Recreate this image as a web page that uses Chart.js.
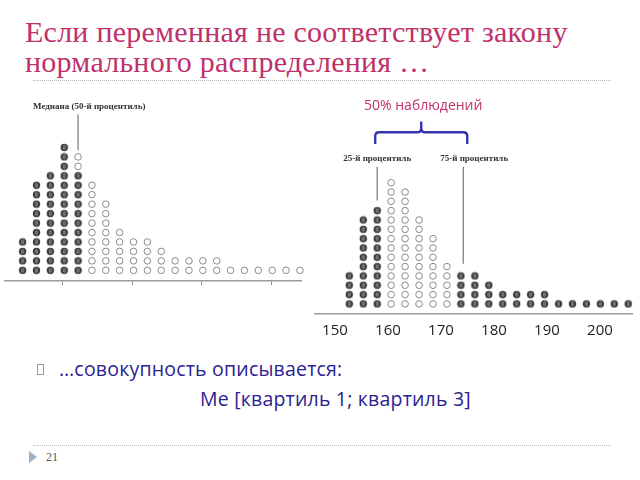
<!DOCTYPE html>
<html>
<head>
<meta charset="utf-8">
<script src="https://cdn.jsdelivr.net/npm/chart.js@4.4.0/dist/chart.umd.min.js"></script>
<style>
    html, body { margin: 0; padding: 0; background: #fff; width: 640px; height: 480px; overflow: hidden; }
    body { position: relative; }
    .t { position: absolute; white-space: nowrap; }
    #title { left: 25px; top: 17px; font-family: "Liberation Serif", serif; font-size: 30px; letter-spacing: 0.25px; line-height: 30px; color: #c0306a; }
    .rule { position: absolute; left: 33px; width: 578px; height: 0; border-top: 1px dotted #b8b8b8; }
    #leftChart { position: absolute; left: 0; top: 90px; }
    #rightChart { position: absolute; left: 310px; top: 90px; }
    .body { font-family: "Open Sans", sans-serif; color: #2b2290; font-size: 19.5px; letter-spacing: 0.2px; }
    #bulletBox { position: absolute; left: 37px; top: 364px; width: 5px; height: 9px; border: 1px solid #999; }
    #tri { position: absolute; left: 29px; top: 451px; width: 0; height: 0; border-top: 6px solid transparent; border-bottom: 6px solid transparent; border-left: 8px solid #9fb3c8; }
    #page { left: 46px; top: 450px; font-family: "Liberation Serif", serif; font-size: 12px; color: #555; }
</style>
</head>
<body>
<div id="title" class="t">Если переменная не соответствует закону<br>нормального распределения …</div>
<div class="rule" style="top:80px"></div>

<canvas id="leftChart" width="310" height="196"></canvas>
<canvas id="rightChart" width="330" height="258"></canvas>

<div id="bulletBox"></div>
<div class="t body" style="left:59px; top:355px;">…совокупность описывается:</div>
<div class="t body" style="left:200px; top:385px;">Me [квартиль 1; квартиль 3]</div>

<div class="rule" style="top:445px"></div>
<div id="tri"></div>
<div id="page" class="t">21</div>

<script>
// Dot counts per column (same sample in both panels), bottom to top
const columnCounts = [4, 10, 11, 14, 13, 10, 8, 5, 4, 4, 3, 2, 2, 2, 2, 1, 1, 1, 1, 1, 1];
// Dark dots per column: below the median (left panel)
const darkBelowMedian = [4, 10, 11, 14, 11, 0, 0, 0, 0, 0, 0, 0, 0, 0, 0, 0, 0, 0, 0, 0, 0];
// Dark dots per column: outside the interquartile range (right panel)
const darkOutsideIQR = [4, 10, 11, 0, 0, 0, 0, 0, 4, 4, 3, 2, 2, 2, 2, 1, 1, 1, 1, 1, 1];
// Height axis of the right panel
const tickValues = [150, 160, 170, 180, 190, 200];
const tickLabels = ['150', '160', '170', '180', '190', '200'];
// Unlabelled tick marks of the left panel
const leftTickValues = [160, 170, 180, 190];

const medianColumn = 4;
const q1Column = 2;
const q3Column = 8.17;

// Split counts into dark / light points
function buildPoints(counts, darkCounts) {
    const dark = [], light = [];
    counts.forEach((n, col) => {
        for (let r = 0; r < n; r++) {
            (r < darkCounts[col] ? dark : light).push({ x: col, y: r });
        }
    });
    return { dark, light };
}

// Filled dot with the little light mark in the middle
function darkDot() {
    const c = document.createElement('canvas');
    c.width = 9; c.height = 9;
    const g = c.getContext('2d');
    g.beginPath();
    g.arc(4.5, 4.5, 3.7, 0, Math.PI * 2);
    g.fillStyle = '#3c3c3c';
    g.fill();
    g.strokeStyle = '#9a9a9a';
    g.lineWidth = 1;
    g.beginPath();
    g.ellipse(4.5, 4.5, 0.8, 2.2, 0, 0, Math.PI * 2);
    g.stroke();
    return c;
}
const darkStyle = darkDot();

function datasets(pts) {
    return [{
        data: pts.dark,
        pointStyle: darkStyle,
        clip: false
    }, {
        data: pts.light,
        pointRadius: 3.3,
        backgroundColor: '#fff',
        borderColor: '#8a8a8a',
        borderWidth: 1,
        clip: false
    }];
}

const baseOptions = {
    responsive: false,
    animation: false,
    events: [],
    plugins: { legend: { display: false }, tooltip: { enabled: false } }
};

function line(ctx, x1, y1, x2, y2) {
    ctx.beginPath();
    ctx.moveTo(x1, y1);
    ctx.lineTo(x2, y2);
    ctx.stroke();
}

// Left panel: median
const medianNotes = {
    id: 'medianNotes',
    afterDatasetsDraw(chart) {
        const { ctx, scales: { x, y } } = chart;
        const mx = x.getPixelForValue(medianColumn);
        ctx.save();
        ctx.strokeStyle = '#777';
        ctx.lineWidth = 1.2;
        line(ctx, mx, y.getPixelForValue(16.5), mx, y.getPixelForValue(12.7));
        ctx.fillStyle = '#333';
        ctx.font = 'bold 9px "Liberation Serif"';
        ctx.textBaseline = 'middle';
        ctx.fillText('Медиана (50-й процентиль)', mx - 45, y.getPixelForValue(17.3));
        ctx.restore();
    }
};

// Right panel: quartiles and bracket
const quartileNotes = {
    id: 'quartileNotes',
    afterDatasetsDraw(chart) {
        const { ctx, scales: { x, y } } = chart;
        const x1 = x.getPixelForValue(q1Column);
        const x3 = x.getPixelForValue(q3Column);
        ctx.save();
        ctx.strokeStyle = '#777';
        ctx.lineWidth = 1.2;
        line(ctx, x1, y.getPixelForValue(14.7), x1, y.getPixelForValue(11.1));
        line(ctx, x3, y.getPixelForValue(14.7), x3, y.getPixelForValue(4.3));
        ctx.fillStyle = '#333';
        ctx.font = 'bold 9px "Liberation Serif"';
        ctx.textBaseline = 'middle';
        ctx.textAlign = 'center';
        ctx.fillText('25-й процентиль', x1, y.getPixelForValue(15.6));
        ctx.textAlign = 'left';
        ctx.fillText('75-й процентиль', x3 - 23, y.getPixelForValue(15.6));

        // curly bracket
        const bl = x1 - 2, br = x3 + 4, bm = (bl + br) / 2;
        const yTop = y.getPixelForValue(18.41), yEnd = y.getPixelForValue(17.14), yTip = y.getPixelForValue(19.57);
        ctx.strokeStyle = '#3434b0';
        ctx.lineWidth = 2.4;
        ctx.beginPath();
        ctx.moveTo(bl, yEnd);
        ctx.lineTo(bl, yTop + 4);
        ctx.quadraticCurveTo(bl, yTop, bl + 4, yTop);
        ctx.lineTo(bm - 4, yTop);
        ctx.quadraticCurveTo(bm, yTop, bm, yTop - 4);
        ctx.lineTo(bm, yTip);
        ctx.moveTo(bm, yTop - 4);
        ctx.quadraticCurveTo(bm, yTop, bm + 4, yTop);
        ctx.lineTo(br - 4, yTop);
        ctx.quadraticCurveTo(br, yTop, br, yTop + 4);
        ctx.lineTo(br, yEnd);
        ctx.stroke();

        ctx.fillStyle = '#c0306a';
        ctx.font = '14px "Open Sans"';
        ctx.textAlign = 'center';
        ctx.fillText('50% наблюдений', bm + 2, y.getPixelForValue(21.26));
        ctx.restore();
    }
};

new Chart(document.getElementById('leftChart'), {
    type: 'scatter',
    data: { datasets: datasets(buildPoints(columnCounts, darkBelowMedian)) },
    options: Object.assign({}, baseOptions, {
        layout: { padding: { left: 3, right: 9, top: 0, bottom: 0 } },
        scales: {
            x: { type: 'linear', display: false, min: -1.27, max: 20.08 },
            y: { type: 'linear', display: false, min: -1.13, max: 18.55 },
            cm: {
                type: 'linear', axis: 'x', position: 'bottom',
                min: 151.71, max: 194.29,
                afterBuildTicks: s => { s.ticks = leftTickValues.map(v => ({ value: v })); },
                ticks: { display: false },
                grid: { drawOnChartArea: false, drawTicks: true, tickLength: 4, color: '#8a8a8a' },
                border: { display: true, color: '#9a9a9a', width: 1.5 }
            }
        }
    }),
    plugins: [medianNotes]
});

new Chart(document.getElementById('rightChart'), {
    type: 'scatter',
    data: { datasets: datasets(buildPoints(columnCounts, darkOutsideIQR)) },
    options: Object.assign({}, baseOptions, {
        layout: { padding: { left: 5, right: 8, top: 0, bottom: 0 } },
        scales: {
            x: { type: 'linear', display: false, min: -2.46, max: 20.27 },
            y: { type: 'linear', display: false, min: -1.085, max: 22.41 },
            cm: {
                type: 'linear', axis: 'x', position: 'bottom',
                min: 146.23, max: 206.04,
                afterBuildTicks: s => { s.ticks = tickValues.map(v => ({ value: v })); },
                ticks: {
                    autoSkip: false, maxRotation: 0, padding: 8,
                    color: '#222', font: { family: 'Open Sans', size: 15 },
                    callback: (v, i) => tickLabels[i]
                },
                grid: { drawOnChartArea: false, drawTicks: false },
                border: { display: true, color: '#9a9a9a', width: 1.5 }
            }
        }
    }),
    plugins: [quartileNotes]
});
</script>
</body>
</html>
